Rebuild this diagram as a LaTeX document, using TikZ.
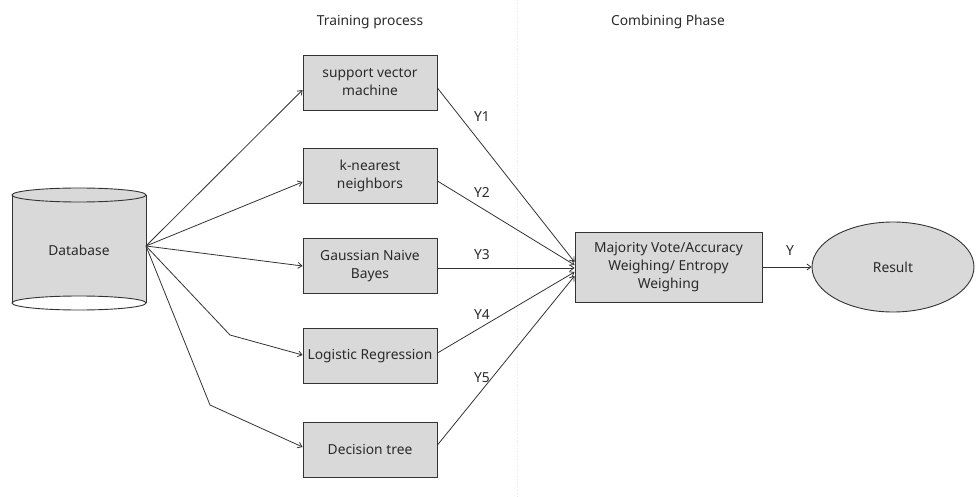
\documentclass[tikz,border=0pt]{standalone}
\usepackage{fontspec}
\setmainfont{Noto Sans}
\usetikzlibrary{shapes.geometric,arrows.meta}
\definecolor{boxfill}{HTML}{D9D9D9}
\definecolor{linecol}{HTML}{333333}
\definecolor{txtcol}{HTML}{2A2A2A}
\tikzset{
  every node/.style={font=\fontsize{13.8}{18}\selectfont, text=txtcol},
  algbox/.style={draw=linecol, fill=boxfill, line width=0.9pt, minimum width=134pt, minimum height=55pt, align=center, inner sep=2pt},
  combbox/.style={draw=linecol, fill=boxfill, line width=0.9pt, minimum width=187pt, minimum height=70pt, align=center, inner sep=2pt},
  conn/.style={draw=linecol, line width=0.8pt, -{Straight Barb[length=4pt,width=6pt]}},
  lbl/.style={inner sep=1pt},
  title/.style={inner sep=1pt}
}
\begin{document}
\begin{tikzpicture}[x=1pt,y=-1pt]
\useasboundingbox (0,0) rectangle (976,497);
% divider
\draw[black!10, dotted, line width=0.8pt] (517,0) -- (517,497);
% titles
\node[title] (t1) at (370,22) {Training process};
\node[title] (t2) at (668,22) {Combining Phase};
% database cylinder
\fill[boxfill] (12,195) -- (12,303) arc[start angle=180, end angle=360, x radius=67, y radius=7] -- (146,195) arc[start angle=0, end angle=180, x radius=67, y radius=7];
\fill[boxfill] (79,195) ellipse[x radius=67, y radius=7];
\draw[linecol, line width=0.9pt] (79,195) ellipse[x radius=67, y radius=7];
\draw[linecol, line width=0.9pt] (12,195) -- (12,303);
\draw[linecol, line width=0.9pt] (146,195) -- (146,303);
\draw[linecol, line width=0.9pt] (79,303) ellipse[x radius=67, y radius=7];
\node (db) at (79,250) {Database};
\coordinate (dbout) at (146,246);
% algorithm boxes
\node[algbox] (svm) at (370,82.5) {support vector\\machine};
\node[algbox] (knn) at (370,175.5) {k-nearest\\neighbors};
\node[algbox] (gnb) at (370,266) {Gaussian Naive\\Bayes};
\node[algbox] (lr) at (370,356) {Logistic Regression};
\node[algbox] (dt) at (370,449.5) {Decision tree};
% combining
\node[combbox] (comb) at (668.5,267) {Majority Vote/Accuracy\\Weighing/ Entropy\\Weighing};
\node[ellipse, draw=linecol, fill=boxfill, line width=0.9pt, minimum width=162pt, minimum height=90pt] (res) at (893,267) {Result};
% input connectors
\draw[conn] (dbout) -- (svm.west |- 0,90);
\draw[conn] (dbout) -- (knn.west |- 0,182);
\draw[conn] (dbout) -- (gnb.west |- 0,266);
\coordinate (b1) at (230,335);
\coordinate (b2) at (210,405);
\draw[conn] (dbout) -- (b1) -- (lr.west |- 0,355);
\draw[conn] (dbout) -- (b2) -- (dt.west |- 0,447);
% output connectors
\draw[conn] (svm.east |- 0,88) -- (comb.west |- 0,262);
\draw[conn] (knn.east |- 0,181) -- (comb.west |- 0,265);
\draw[conn] (gnb.east |- 0,268) -- (comb.west |- 0,268);
\draw[conn] (lr.east |- 0,353) -- (comb.west |- 0,272);
\draw[conn] (dt.east |- 0,445) -- (comb.west |- 0,276);
\node[lbl] (y1) at (482,117) {Y1};
\node[lbl] (y2) at (482,193) {Y2};
\node[lbl] (y3) at (482,255) {Y3};
\node[lbl] (y4) at (482,315) {Y4};
\node[lbl] (y5) at (482,378) {Y5};
% result connector
\draw[conn] (comb.east) -- (res.west);
\node[lbl] (y) at (790,251) {Y};
\end{tikzpicture}
\end{document}
